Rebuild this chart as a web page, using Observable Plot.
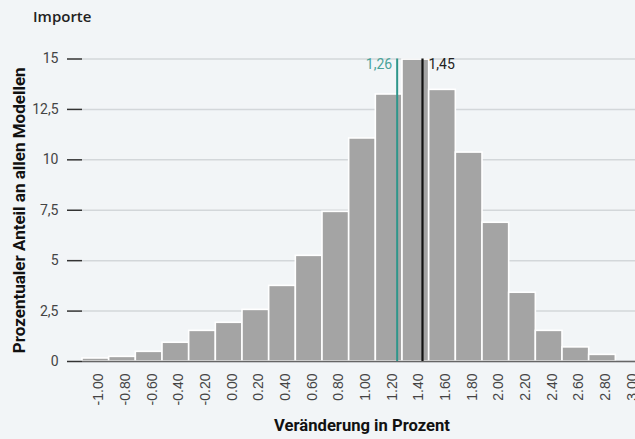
<!DOCTYPE html>
<html>
<head>
<meta charset="utf-8">
<script src="https://cdn.jsdelivr.net/npm/d3@7"></script>
<script src="https://cdn.jsdelivr.net/npm/@observablehq/plot@0.6"></script>
<style>
  html, body { margin: 0; padding: 0; background: #f2f5f7; overflow: hidden; }
  #title { height: 30px; box-sizing: border-box; padding: 9px 0 0 33px; font: 600 15px "Open Sans", sans-serif; line-height: 1; color: #222; }
  #chart svg { display: block; overflow: hidden; }
</style>
</head>
<body>
<div id="title">Importe</div>
<div id="chart"></div>
<script>
// Bin centres (Veränderung in Prozent) and share of all models (%)
const binCenters = [-1.0, -0.8, -0.6, -0.4, -0.2, 0.0, 0.2, 0.4, 0.6, 0.8, 1.0, 1.2, 1.4, 1.6, 1.8, 2.0, 2.2, 2.4, 2.6, 2.8];
const shares     = [0.15, 0.23, 0.48, 0.93, 1.52, 1.92, 2.56, 3.75, 5.24, 7.42, 11.06, 13.24, 14.97, 13.47, 10.36, 6.88, 3.41, 1.52, 0.70, 0.33];
const xTickValues = [-1.0, -0.8, -0.6, -0.4, -0.2, 0.0, 0.2, 0.4, 0.6, 0.8, 1.0, 1.2, 1.4, 1.6, 1.8, 2.0, 2.2, 2.4, 2.6, 2.8, 3.0];
const yTickValues = [0, 2.5, 5, 7.5, 10, 12.5, 15];
const markerValues = [1.26, 1.45];
const markerLabels = ["1,26", "1,45"];
const binWidth = 0.2;

const bins = binCenters.map((c, i) => ({center: c, share: shares[i]}));

const chart = Plot.plot({
  width: 635,
  height: 409,
  marginLeft: 82,
  marginRight: 0,
  marginTop: 28.5,
  marginBottom: 78,
  style: {background: "transparent", fontFamily: "Roboto, sans-serif", overflow: "hidden"},
  x: {domain: [-1.1, 3.1], range: [82, 642]},
  y: {domain: [0, 15]},
  marks: [
    Plot.gridY(yTickValues, {stroke: "#d3d7da", strokeOpacity: 1, strokeWidth: 1.5}),
    Plot.rectY(bins, {x1: d => d.center - binWidth / 2, x2: d => d.center + binWidth / 2, y: "share", fill: "#a4a4a4", stroke: "white", strokeWidth: 1.6}),
    Plot.ruleY([0], {stroke: "#666", strokeWidth: 1.5}),
    Plot.axisY(yTickValues, {tickSize: 15, tickPadding: 9, tickFormat: d => String(d).replace(".", ","), stroke: "#333", strokeWidth: 1.5, fill: "#444", fontSize: 14, label: null}),
    Plot.axisX(xTickValues, {tickSize: 0, tickPadding: 12, tickRotate: -90, tickFormat: d => d.toFixed(2), fill: "#444", fontSize: 14, fontFamily: "Liberation Sans, Arial, sans-serif", dx: 3, label: null}),
    Plot.ruleX([markerValues[0]], {stroke: "#2f968b", strokeWidth: 2}),
    Plot.ruleX([markerValues[1]], {stroke: "#111", strokeWidth: 2.2}),
    Plot.text([markerLabels[0]], {x: [markerValues[0]], frameAnchor: "top", lineAnchor: "top", textAnchor: "end", dx: -5, fill: "#4aa39a", fontSize: 14}),
    Plot.text([markerLabels[1]], {x: [markerValues[1]], frameAnchor: "top", lineAnchor: "top", textAnchor: "start", dx: 6, fill: "#222", fontSize: 14}),
    Plot.text(["Veränderung in Prozent"], {frameAnchor: "bottom", lineAnchor: "middle", textAnchor: "middle", dy: 64, dx: 3, fontWeight: "bold", fontSize: 16.6, fill: "#111"}),
    Plot.text(["Prozentualer Anteil an allen Modellen"], {frameAnchor: "left", rotate: -90, textAnchor: "middle", lineAnchor: "middle", dx: -63, fontWeight: "bold", fontSize: 17, fill: "#111"})
  ]
});
document.getElementById("chart").appendChild(chart);
</script>
</body>
</html>
